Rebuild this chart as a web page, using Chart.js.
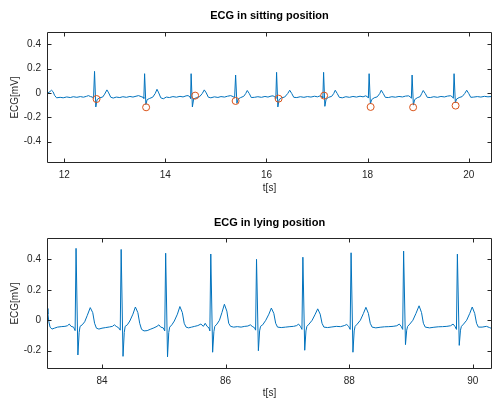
<!DOCTYPE html>
<html>
<head>
<meta charset="utf-8">
<script src="https://cdn.jsdelivr.net/npm/chart.js@4.4.0/dist/chart.umd.min.js"></script>
<style>
body { margin: 0; background: #fff; }
canvas { display: block; }
</style>
</head>
<body>
<canvas id="sitting" width="492" height="200"></canvas>
<canvas id="lying" width="492" height="200"></canvas>
<script>
//坐姿心电数据
var sittingTime = [11.66, 11.70, 11.75, 11.78, 11.81, 11.85, 11.92, 11.98, 12.05, 12.12, 12.18, 12.25, 12.32, 12.38, 12.44, 12.48, 12.52, 12.56, 12.58,
    12.60, 12.625, 12.65, 12.70, 12.76, 12.80, 12.845, 12.88, 12.92, 12.97, 13.03, 13.10, 13.16, 13.23, 13.30, 13.36, 13.42, 13.47, 13.52, 13.56, 13.575,
    13.59, 13.615, 13.64, 13.69, 13.75, 13.80, 13.835, 13.87, 13.91, 13.96, 14.02, 14.08, 14.15, 14.22, 14.29, 14.35, 14.41, 14.45, 14.49, 14.50,
    14.51, 14.535, 14.56, 14.62, 14.68, 14.73, 14.77, 14.81, 14.85, 14.90, 14.97, 15.04, 15.10, 15.17, 15.23, 15.29, 15.34, 15.37,
    15.39, 15.415, 15.44, 15.49, 15.55, 15.59, 15.62, 15.66, 15.70, 15.76, 15.83, 15.90, 15.97, 16.03, 16.09, 16.13, 16.17, 16.185,
    16.20, 16.225, 16.25, 16.30, 16.36, 16.42, 16.46, 16.50, 16.54, 16.60, 16.67, 16.74, 16.81, 16.88, 16.95, 17.01, 17.06, 17.10, 17.115,
    17.13, 17.155, 17.18, 17.23, 17.29, 17.33, 17.36, 17.40, 17.44, 17.50, 17.57, 17.64, 17.71, 17.78, 17.85, 17.91, 17.96, 18.00, 18.015,
    18.03, 18.055, 18.08, 18.13, 18.19, 18.24, 18.27, 18.31, 18.35, 18.41, 18.48, 18.55, 18.62, 18.69, 18.75, 18.81, 18.85, 18.865,
    18.88, 18.905, 18.93, 18.98, 19.04, 19.07, 19.10, 19.14, 19.18, 19.24, 19.31, 19.38, 19.45, 19.52, 19.58, 19.64, 19.68, 19.695,
    19.71, 19.735, 19.76, 19.81, 19.87, 19.92, 19.96, 20.00, 20.04, 20.10, 20.17, 20.24, 20.31, 20.38, 20.46];
var sittingEcg = [-0.005, 0.005, 0.022, 0.010, -0.020, -0.040, -0.036, -0.040, -0.033, -0.038, -0.031, -0.036, -0.030, -0.035, -0.028, -0.022, -0.030, -0.034, -0.045,
    0.177, -0.115, -0.055, -0.040, -0.034, -0.010, 0.025, 0.000, -0.035, -0.042, -0.034, -0.038, -0.031, -0.036, -0.029, -0.034, -0.027, -0.022, -0.030, -0.036, -0.045,
    0.158, -0.095, -0.055, -0.045, -0.035, -0.005, 0.030, 0.000, -0.040, -0.048, -0.034, -0.038, -0.030, -0.035, -0.028, -0.033, -0.024, -0.022, -0.034, -0.045,
    0.158, -0.115, -0.050, -0.038, -0.030, -0.005, 0.025, 0.000, -0.035, -0.040, -0.032, -0.037, -0.030, -0.034, -0.027, -0.022, -0.030, -0.040,
    0.147, -0.085, -0.050, -0.038, -0.028, -0.005, 0.020, -0.005, -0.038, -0.036, -0.031, -0.036, -0.029, -0.034, -0.026, -0.024, -0.034, -0.045,
    0.169, -0.115, -0.055, -0.040, -0.034, -0.005, 0.022, -0.005, -0.036, -0.038, -0.031, -0.036, -0.030, -0.034, -0.027, -0.032, -0.024, -0.030, -0.040,
    0.169, -0.110, -0.050, -0.036, -0.028, -0.005, 0.022, -0.005, -0.036, -0.040, -0.031, -0.036, -0.029, -0.034, -0.027, -0.032, -0.024, -0.032, -0.042,
    0.158, -0.090, -0.055, -0.040, -0.032, -0.005, 0.022, -0.005, -0.036, -0.038, -0.031, -0.035, -0.029, -0.033, -0.026, -0.024, -0.034, -0.044,
    0.147, -0.100, -0.055, -0.040, -0.030, -0.005, 0.020, -0.005, -0.036, -0.038, -0.031, -0.036, -0.029, -0.033, -0.026, -0.023, -0.033, -0.044,
    0.158, -0.080, -0.050, -0.038, -0.030, -0.005, 0.022, -0.005, -0.036, -0.034, -0.030, -0.034, -0.028, -0.032, -0.029];

//坐姿标记点（圆圈）
var sittingMarkTime = [12.64, 13.62, 14.59, 15.39, 16.24, 17.14, 18.06, 18.90, 19.74];
var sittingMarkEcg = [-0.050, -0.118, -0.022, -0.066, -0.047, -0.022, -0.115, -0.118, -0.104];

//卧姿心电数据
var lyingTime = [83.11, 83.125, 83.14, 83.16, 83.19, 83.23, 83.28, 83.34, 83.40, 83.44, 83.47, 83.50, 83.54, 83.565,
    83.58, 83.61, 83.63, 83.645, 83.68, 83.72, 83.76, 83.81, 83.85, 83.88, 83.91, 83.95, 84.00, 84.06, 84.12, 84.17, 84.20, 84.23, 84.27, 84.295,
    84.31, 84.34, 84.36, 84.375, 84.41, 84.45, 84.50, 84.54, 84.58, 84.61, 84.64, 84.68, 84.73, 84.79, 84.84, 84.89, 84.92, 84.95, 84.99, 85.015,
    85.03, 85.06, 85.08, 85.095, 85.13, 85.17, 85.22, 85.26, 85.30, 85.33, 85.36, 85.40, 85.45, 85.50, 85.55, 85.60, 85.64, 85.67, 85.70, 85.73, 85.745,
    85.76, 85.79, 85.81, 85.825, 85.86, 85.90, 85.94, 85.98, 86.02, 86.05, 86.08, 86.13, 86.19, 86.25, 86.31, 86.36, 86.40, 86.43, 86.47, 86.485,
    86.50, 86.53, 86.55, 86.565, 86.60, 86.65, 86.70, 86.74, 86.78, 86.81, 86.84, 86.90, 86.97, 87.04, 87.10, 87.15, 87.18, 87.21, 87.235,
    87.25, 87.28, 87.30, 87.315, 87.35, 87.40, 87.45, 87.49, 87.53, 87.56, 87.59, 87.65, 87.72, 87.79, 87.86, 87.92, 87.96, 87.99, 88.015,
    88.03, 88.06, 88.08, 88.095, 88.13, 88.18, 88.23, 88.27, 88.31, 88.34, 88.37, 88.43, 88.50, 88.57, 88.64, 88.71, 88.77, 88.81, 88.84, 88.865,
    88.88, 88.91, 88.93, 88.945, 88.98, 89.03, 89.08, 89.13, 89.17, 89.20, 89.23, 89.30, 89.37, 89.44, 89.51, 89.58, 89.64, 89.68, 89.71, 89.735,
    89.75, 89.78, 89.80, 89.815, 89.85, 89.90, 89.95, 89.99, 90.03, 90.06, 90.09, 90.15, 90.22, 90.27, 90.31];
var lyingEcg = [0.077, 0.040, -0.010, -0.045, -0.058, -0.052, -0.045, -0.042, -0.040, -0.036, -0.025, -0.040, -0.045, -0.068,
    0.472, -0.228, -0.080, -0.040, -0.030, -0.010, 0.030, 0.083, 0.050, -0.020, -0.052, -0.058, -0.052, -0.048, -0.044, -0.040, -0.030, -0.040, -0.050, -0.065,
    0.465, -0.237, -0.080, -0.040, -0.030, -0.005, 0.040, 0.087, 0.050, -0.020, -0.060, -0.070, -0.068, -0.058, -0.050, -0.040, -0.030, -0.045, -0.050, -0.070,
    0.440, -0.240, -0.080, -0.045, -0.030, -0.005, 0.040, 0.090, 0.050, -0.020, -0.045, -0.050, -0.045, -0.040, -0.035, -0.025, -0.040, -0.020, -0.040, -0.050, -0.070,
    0.435, -0.210, -0.075, -0.040, -0.025, 0.000, 0.050, 0.105, 0.060, -0.020, -0.040, -0.045, -0.042, -0.045, -0.040, -0.038, -0.030, -0.040, -0.050, -0.065,
    0.400, -0.200, -0.070, -0.040, -0.030, 0.000, 0.040, 0.080, 0.045, -0.020, -0.045, -0.048, -0.045, -0.042, -0.040, -0.035, -0.025, -0.040, -0.060,
    0.414, -0.197, -0.070, -0.040, -0.025, 0.000, 0.040, 0.075, 0.040, -0.020, -0.045, -0.048, -0.044, -0.040, -0.042, -0.035, -0.028, -0.040, -0.060,
    0.443, -0.210, -0.070, -0.040, -0.025, 0.000, 0.045, 0.085, 0.045, -0.020, -0.045, -0.050, -0.046, -0.043, -0.042, -0.040, -0.036, -0.025, -0.040, -0.060,
    0.454, -0.160, -0.065, -0.040, -0.025, 0.000, 0.045, 0.095, 0.050, -0.020, -0.045, -0.050, -0.046, -0.043, -0.042, -0.040, -0.036, -0.025, -0.040, -0.060,
    0.434, -0.165, -0.065, -0.040, -0.025, 0.000, 0.045, 0.087, 0.045, -0.020, -0.045, -0.045, -0.040, -0.048, -0.055];

//坐标刻度
var sittingXTicks = [12, 14, 16, 18, 20];
var sittingYTicks = [-0.4, -0.2, 0, 0.2, 0.4];
var sittingYLabels = ["-0.4", "-0.2", "0", "0.2", "0.4"];
var lyingXTicks = [84, 86, 88, 90];
var lyingYTicks = [-0.2, 0, 0.2, 0.4];
var lyingYLabels = ["-0.2", "0", "0.2", "0.4"];

var axisColor = '#262626';
var tickFont = { family: 'Liberation Sans', size: 10 };

//组合成{x, y}点
function toPoints(xs, ys) {
    return xs.map(function(x, i) {
        return { x: x, y: ys[i] };
    });
}

//MATLAB风格的边框、向内刻度和标题
var matlabAxes = {
    id: 'matlabAxes',
    afterDatasetsDraw: function(chart, args, opts) {
        var ctx = chart.ctx;
        var a = chart.chartArea;
        var xs = chart.scales.x;
        var ys = chart.scales.y;
        var l = a.left + 0.5, r = a.right - 0.5, t = a.top + 0.5, b = a.bottom - 0.5;
        ctx.save();
        ctx.strokeStyle = axisColor;
        ctx.lineWidth = 1;
        ctx.beginPath();
        ctx.rect(l, t, r - l, b - t);
        xs.ticks.forEach(function(tk) {
            var x = Math.round(xs.getPixelForValue(tk.value)) + 0.5;
            ctx.moveTo(x, b); ctx.lineTo(x, b - 4);
            ctx.moveTo(x, t); ctx.lineTo(x, t + 4);
        });
        ys.ticks.forEach(function(tk) {
            var y = Math.round(ys.getPixelForValue(tk.value)) + 0.5;
            ctx.moveTo(l, y); ctx.lineTo(l + 4, y);
            ctx.moveTo(r, y); ctx.lineTo(r - 4, y);
        });
        ctx.stroke();
        ctx.fillStyle = '#000';
        ctx.font = 'bold 11px "Liberation Sans"';
        ctx.textAlign = 'center';
        ctx.textBaseline = 'middle';
        ctx.fillText(opts.text, (a.left + a.right) / 2, opts.y);
        ctx.restore();
    }
};

//绘制一幅心电图
function ecgChart(id, o) {
    var datasets = [{
        data: toPoints(o.time, o.ecg),
        borderColor: '#0072BD',
        borderWidth: 1,
        pointRadius: 0,
        tension: 0,
        order: 2
    }];
    if(o.markTime) {
        datasets.push({
            data: toPoints(o.markTime, o.markEcg),
            showLine: false,
            pointStyle: 'circle',
            pointRadius: 3.5,
            pointBorderWidth: 1,
            pointBorderColor: '#D95319',
            pointBackgroundColor: 'rgba(0,0,0,0)',
            order: 1
        });
    }
    return new Chart(document.getElementById(id), {
        type: 'line',
        data: { datasets: datasets },
        plugins: [matlabAxes],
        options: {
            responsive: false,
            animation: false,
            layout: { autoPadding: false, padding: { top: o.top, right: 0, bottom: 0, left: 0 } },
            plugins: {
                legend: { display: false },
                tooltip: { enabled: false },
                matlabAxes: { text: o.title, y: o.titleY }
            },
            scales: {
                x: {
                    type: 'linear',
                    min: o.xMin,
                    max: o.xMax,
                    afterFit: function(s) { s.height = o.xHeight; },
                    afterBuildTicks: function(s) {
                        s.ticks = o.xTicks.map(function(v) { return { value: v }; });
                    },
                    grid: { display: false, drawTicks: false },
                    border: { display: false },
                    ticks: { padding: 6, color: axisColor, font: tickFont, maxRotation: 0,
                        callback: function(v) { return String(v); } },
                    title: { display: true, text: 't[s]', color: axisColor, font: tickFont,
                        padding: { top: 0, bottom: o.xTitlePad } }
                },
                y: {
                    min: o.yMin,
                    max: o.yMax,
                    afterFit: function(s) { s.width = 47; },
                    afterBuildTicks: function(s) {
                        s.ticks = o.yTicks.map(function(v) { return { value: v }; });
                    },
                    grid: { display: false, drawTicks: false },
                    border: { display: false },
                    ticks: { padding: 6, color: axisColor, font: tickFont,
                        callback: function(v, i) { return o.yLabels[i]; } },
                    title: { display: true, text: 'ECG[mV]', color: axisColor, font: tickFont,
                        padding: { top: 9, bottom: 0 } }
                }
            }
        }
    });
}

ecgChart('sitting', {
    time: sittingTime, ecg: sittingEcg,
    markTime: sittingMarkTime, markEcg: sittingMarkEcg,
    title: 'ECG in sitting position', titleY: 16, top: 32,
    xMin: 11.66, xMax: 20.46, xTicks: sittingXTicks, xHeight: 37, xTitlePad: 6,
    yMin: -0.575, yMax: 0.5, yTicks: sittingYTicks, yLabels: sittingYLabels
});

ecgChart('lying', {
    time: lyingTime, ecg: lyingEcg,
    title: 'ECG in lying position', titleY: 23, top: 38,
    xMin: 83.11, xMax: 90.31, xTicks: lyingXTicks, xHeight: 31, xTitlePad: 1,
    yMin: -0.32, yMax: 0.54, yTicks: lyingYTicks, yLabels: lyingYLabels
});
</script>
</body>
</html>
